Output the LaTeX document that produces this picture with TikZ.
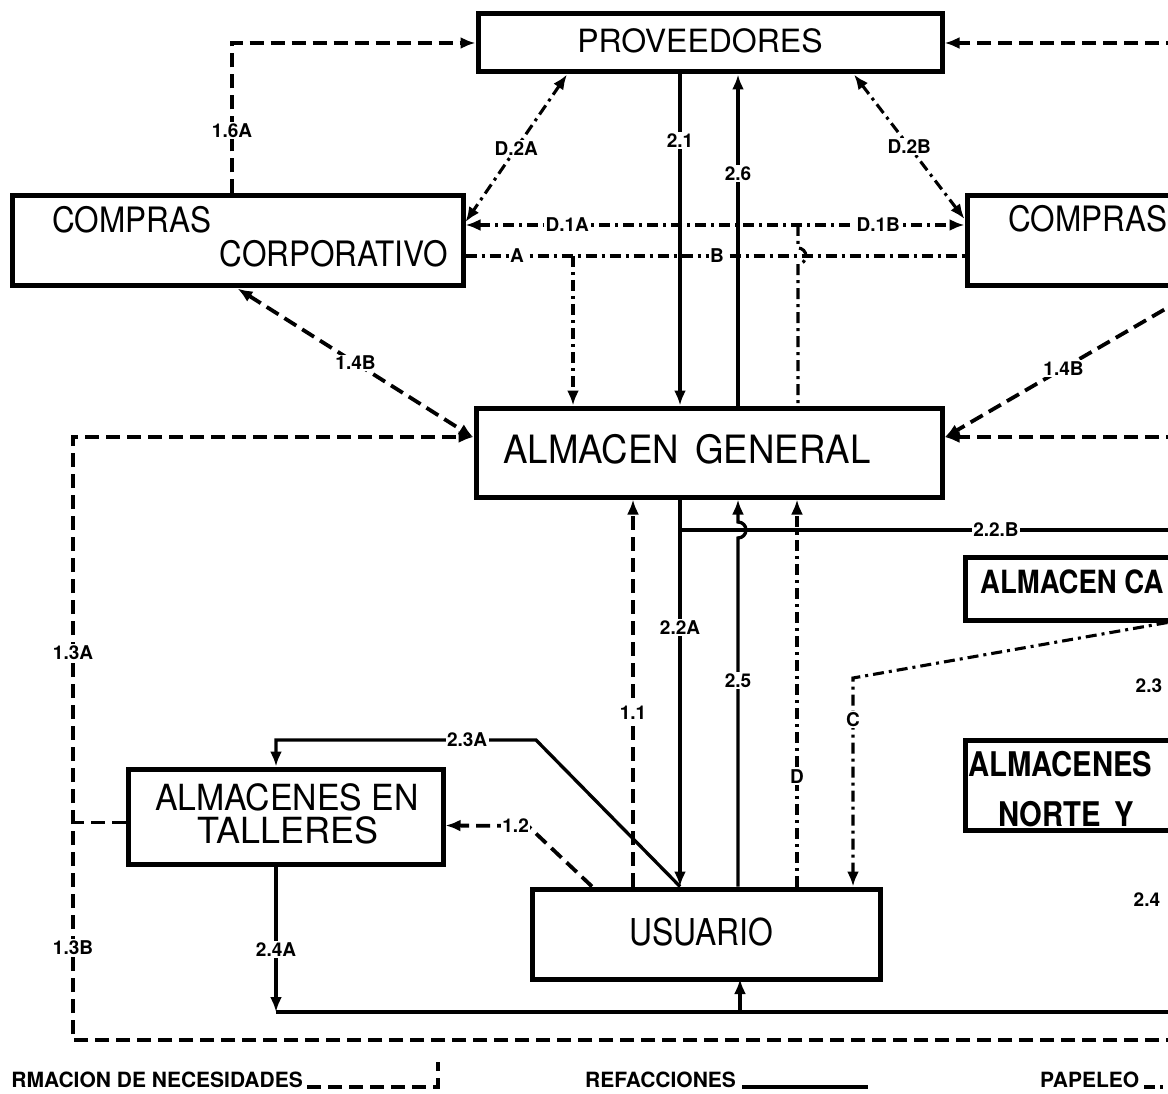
\documentclass[tikz,border=0pt]{standalone}
\usepackage{fontspec}
\setmainfont{TeX Gyre Heros}
\newfontfamily\plainface{TeX Gyre Heros}
\newfontfamily\narrowface[FakeStretch=0.9]{TeX Gyre Heros}
\newfontfamily\midface[FakeStretch=0.94]{TeX Gyre Heros}
\newfontfamily\tightface[FakeStretch=0.86]{TeX Gyre Heros}
\usetikzlibrary{arrows.meta}

\begin{document}
\begin{tikzpicture}[x=1pt,y=-1pt,
  box/.style={draw, line width=5pt, rectangle, inner sep=0pt},
  txt/.style={inner sep=0pt},
  conn/.style={line width=3.3pt},
  dsh/.style={line width=3.8pt, dash pattern=on 14pt off 7pt},
  dshdot/.style={line width=3.1pt, dash pattern=on 11pt off 5pt on 3pt off 5pt},
  arr1/.style={-{Latex[length=15pt,width=12pt]}},
  arr2/.style={{Latex[length=15pt,width=12pt]}-{Latex[length=15pt,width=12pt]}},
  lab/.style={fill=white, inner sep=1.5pt, font=\plainface\bfseries\fontsize{19}{19}\selectfont},
  legend/.style={txt, font=\plainface\bfseries\fontsize{21}{21}\selectfont},
  big/.style={txt, font=\narrowface\fontsize{35}{40}\selectfont},
  heavy/.style={txt, font=\tightface\bfseries\fontsize{34}{38}\selectfont},
]
\useasboundingbox (0,0) rectangle (1168,1094);
\clip (0,0) rectangle (1168,1094);

% boxes
\node[box, minimum width=464pt, minimum height=58pt] (prov) at (710,43) {};
\node[box, minimum width=451pt, minimum height=90pt] (cc) at (237.5,241) {};
\node[box, minimum width=283pt, minimum height=90pt] (cr) at (1108.5,241) {};
\node[box, minimum width=466pt, minimum height=89pt] (ag) at (709,452.5) {};
\node[box, minimum width=285pt, minimum height=63pt] (acen) at (1107.5,588.5) {};
\node[box, minimum width=285pt, minimum height=90pt] (anorte) at (1107.5,785) {};
\node[box, minimum width=315pt, minimum height=95pt] (at) at (285.5,816.5) {};
\node[box, minimum width=348pt, minimum height=90pt] (us) at (706,934) {};

% box texts
\node[txt, anchor=base, font=\plainface\fontsize{32}{36}\selectfont] (tprov) at (700,53) {PROVEEDORES};
\node[big, anchor=base west] (tcc1) at (52,233) {COMPRAS};
\node[big, anchor=base east] (tcc2) at (448,267) {CORPORATIVO};
\node[big, anchor=base west] (tcr) at (1008,232) {COMPRAS};
\node[txt, anchor=base west, font=\midface\fontsize{39}{44}\selectfont] (tag) at (503,463) {ALMACEN\hspace{6pt} GENERAL};
\node[txt, anchor=base, font=\midface\fontsize{36}{40}\selectfont] (tat1) at (287,810) {ALMACENES EN};
\node[txt, anchor=base, font=\plainface\fontsize{36}{40}\selectfont] (tat2) at (288,843) {TALLERES};
\node[txt, anchor=base, font=\tightface\fontsize{37}{42}\selectfont] (tus) at (701,945) {USUARIO};
\node[txt, anchor=base west, font=\tightface\bfseries\fontsize{32}{36}\selectfont] (tac) at (980,593) {ALMACEN CA};
\node[heavy, anchor=base west] (tan1) at (968,776) {ALMACENES};
\node[heavy, anchor=base west] (tan2) at (998,826) {NORTE\hspace{14pt}Y};

% junctions and points beyond the right edge
\coordinate (etop) at (1180,43);
\coordinate (emid) at (1180,437);
\coordinate (ebot) at (1180,1040);
\coordinate (lft) at (73,437);
\coordinate (lfb) at (73,1040);
\coordinate (ja) at (573,256);
\coordinate (jd) at (798,225);
\coordinate (jb) at (680,530);
\coordinate (eb) at (1180,530);
\coordinate (cbend) at (853,678);
\coordinate (c24) at (276,1012);
\coordinate (e24) at (1180,1012);
\coordinate (u4) at (740,979);

% purchasing to suppliers
\draw[dsh, arr1] ([xshift=-5.5pt]cc.north) |- node[lab, pos=0.21]{1.6A} (prov.west);
\draw[dsh, arr1] (etop) -- (prov.east);
\draw[dshdot, arr2] ([xshift=-143pt]prov.south) -- node[lab]{D.2A} ([yshift=19pt]cc.east);
\draw[dshdot, arr2] ([xshift=144pt]prov.south) -- node[lab]{D.2B} ([yshift=22pt]cr.west);
\draw[dshdot, arr2] ([yshift=16pt]cc.east) -- node[lab, pos=0.204]{D.1A} node[lab, pos=0.827]{D.1B} ([yshift=16pt]cr.west);
\draw[dshdot] ([yshift=-15pt]cc.east) -- node[lab, pos=0.103]{A} node[lab, pos=0.504]{B} ([yshift=-15pt]cr.west);
\draw[dshdot, arr1] (ja) -- (ja |- ag.north);
\draw[dshdot] (jd) -- ++(0,23) arc[start angle=90, end angle=-90, radius=8pt] -- (jd |- ag.north);

% suppliers and general store
\draw[conn, arr1] ([xshift=-30pt]prov.south) -- node[lab, pos=0.2]{2.1} ([xshift=-29pt]ag.north);
\draw[conn, arr1] ([xshift=29pt]ag.north) -- node[lab, pos=0.7]{2.6} ([xshift=28pt]prov.south);

% requirement lines into the general store
\draw[dsh, arr2] (cc.south) -- node[lab]{1.4B} ([yshift=15pt]ag.west);
\draw[dsh, arr1] ([xshift=92pt]cr.south) -- node[lab, pos=0.535]{1.4B} ([yshift=15pt]ag.east);
\draw[dsh, arr1] (ebot) -- (lfb) -- node[lab, pos=0.153]{1.3B} node[lab, pos=0.642]{1.3A} (lft) -- (lft -| ag.west);
\draw[dsh, arr1] (emid) -- (emid -| ag.east);
\draw[dsh] ([yshift=-6pt]at.west) -- ++(-55,0);

% general store and user
\draw[conn, arr1] ([xshift=-29pt]ag.south) -- node[lab, pos=0.33]{2.2A} ([xshift=-26pt]us.north);
\draw[conn] (jb) -- node[lab, pos=0.632]{2.2.B} (eb);
\draw[conn, arr1] ([xshift=32pt]us.north) -- node[lab, pos=0.59]{2.5} (738,538) arc[start angle=-90, end angle=90, radius=8pt] -- ([xshift=29pt]ag.south);
\draw[dsh, arr1] ([xshift=-73pt]us.north) -- node[lab, pos=0.45]{1.1} ([xshift=-76pt]ag.south);
\draw[dshdot, arr1] ([xshift=91pt]us.north) -- node[lab, pos=0.283]{D} ([xshift=88pt]ag.south);
\draw[dshdot, arr1] ([xshift=60pt]acen.south) -- (cbend) -- node[lab, pos=0.2]{C} (cbend |- us.north);

% workshop stores
\draw[conn, arr1] ([xshift=-26pt]us.north) -- (536,740) -- node[lab, pos=0.265]{2.3A} (276,740) -- ([xshift=-9.5pt]at.north);
\draw[dsh, arr1] ([xshift=-114pt]us.north) -- (528,826) -- node[lab, pos=0.15]{1.2} ([yshift=-9pt]at.east);
\draw[conn, arr1] ([xshift=-9.5pt]at.south) -- node[lab, pos=0.57]{2.4A} (c24);
\draw[conn] (c24) -- (e24);
\draw[conn, arr1] (u4 |- c24) -- (u4);

% labels of lines beyond the right edge
\node[lab, anchor=west] (l23) at (1134,686) {2.3};
\node[lab, anchor=west] (l24) at (1132,900) {2.4};

% legend
\node[legend, anchor=base east] (leg1) at (303,1087) {RMACION DE NECESIDADES};
\draw[dsh, line width=3.4pt] ([xshift=4pt]leg1.base east) -- ++(131,0) -- ++(0,-25);
\node[legend, anchor=base west] (leg2) at (585,1087) {REFACCIONES};
\draw[conn] ([xshift=6pt]leg2.base east) -- ++(126,0);
\node[legend, anchor=base west] (leg3) at (1040,1087) {PAPELEO};
\draw[dshdot] ([xshift=5pt]leg3.base east) -- ++(40,0);
\end{tikzpicture}
\end{document}
